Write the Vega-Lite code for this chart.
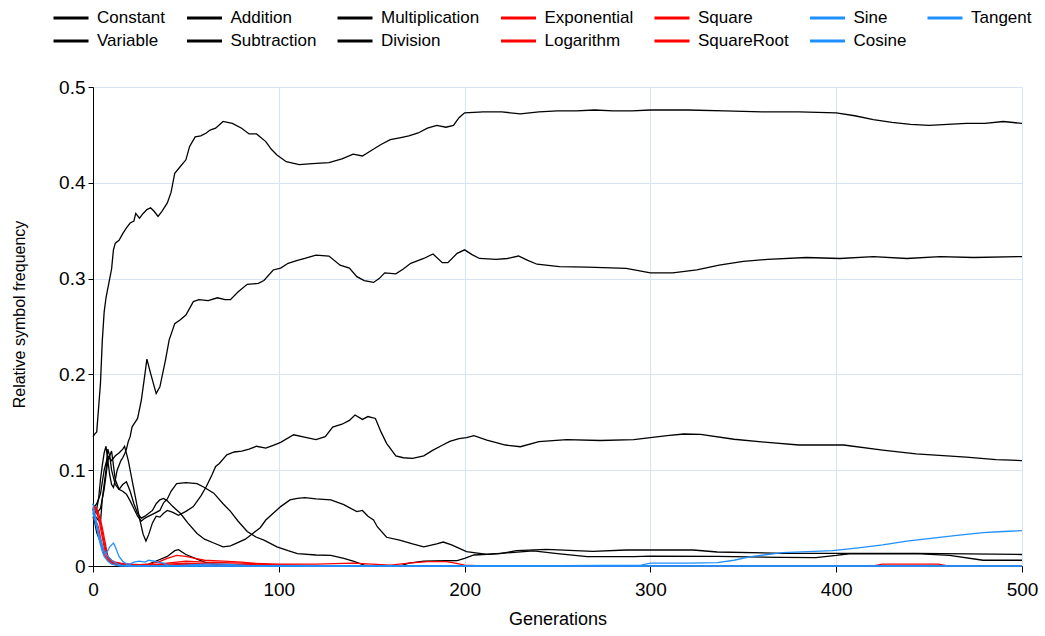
{
 "$schema": "https://vega.github.io/schema/vega-lite/v6.json",
 "width": 929, "height": 479,
 "autosize": {"type": "none"},
 "padding": {"left": 93, "top": 87, "right": 23, "bottom": 70},
 "background": "white",
 "config": {"view": {"stroke": null}, "font": "Liberation Sans"},
 "datasets": {
  "d": [
{"s":"Constant","g":0,"v":0.135},{"s":"Constant","g":1,"v":0.138},{"s":"Constant","g":2,"v":0.14},{"s":"Constant","g":3,"v":0.165},{"s":"Constant","g":4,"v":0.19},{"s":"Constant","g":5,"v":0.235},{"s":"Constant","g":6,"v":0.265},{"s":"Constant","g":7,"v":0.28},{"s":"Constant","g":8,"v":0.29},{"s":"Constant","g":9,"v":0.3},{"s":"Constant","g":10,"v":0.31},{"s":"Constant","g":11,"v":0.33},{"s":"Constant","g":12,"v":0.337},{"s":"Constant","g":14,"v":0.34},{"s":"Constant","g":16,"v":0.347},{"s":"Constant","g":18,"v":0.353},{"s":"Constant","g":20,"v":0.358},{"s":"Constant","g":22,"v":0.36},{"s":"Constant","g":23,"v":0.368},{"s":"Constant","g":25,"v":0.363},{"s":"Constant","g":27,"v":0.368},{"s":"Constant","g":29,"v":0.372},{"s":"Constant","g":31,"v":0.374},{"s":"Constant","g":33,"v":0.37},{"s":"Constant","g":35,"v":0.365},{"s":"Constant","g":37,"v":0.37},{"s":"Constant","g":40,"v":0.379},{"s":"Constant","g":42,"v":0.39},{"s":"Constant","g":44,"v":0.41},{"s":"Constant","g":47,"v":0.417},{"s":"Constant","g":50,"v":0.424},{"s":"Constant","g":52,"v":0.438},{"s":"Constant","g":55,"v":0.448},{"s":"Constant","g":58,"v":0.449},{"s":"Constant","g":61,"v":0.452},{"s":"Constant","g":63,"v":0.455},{"s":"Constant","g":66,"v":0.457},{"s":"Constant","g":70,"v":0.464},{"s":"Constant","g":75,"v":0.462},{"s":"Constant","g":80,"v":0.457},{"s":"Constant","g":84,"v":0.451},{"s":"Constant","g":88,"v":0.451},{"s":"Constant","g":93,"v":0.443},{"s":"Constant","g":96,"v":0.435},{"s":"Constant","g":99,"v":0.429},{"s":"Constant","g":104,"v":0.422},{"s":"Constant","g":111,"v":0.419},{"s":"Constant","g":118,"v":0.42},{"s":"Constant","g":127,"v":0.421},{"s":"Constant","g":134,"v":0.425},{"s":"Constant","g":140,"v":0.43},{"s":"Constant","g":145,"v":0.428},{"s":"Constant","g":150,"v":0.434},{"s":"Constant","g":155,"v":0.44},{"s":"Constant","g":160,"v":0.445},{"s":"Constant","g":165,"v":0.447},{"s":"Constant","g":170,"v":0.449},{"s":"Constant","g":175,"v":0.452},{"s":"Constant","g":180,"v":0.457},{"s":"Constant","g":185,"v":0.46},{"s":"Constant","g":190,"v":0.458},{"s":"Constant","g":194,"v":0.46},{"s":"Constant","g":197,"v":0.468},{"s":"Constant","g":200,"v":0.473},{"s":"Constant","g":210,"v":0.474},{"s":"Constant","g":220,"v":0.474},{"s":"Constant","g":230,"v":0.472},{"s":"Constant","g":240,"v":0.474},{"s":"Constant","g":250,"v":0.475},{"s":"Constant","g":260,"v":0.475},{"s":"Constant","g":270,"v":0.476},{"s":"Constant","g":280,"v":0.475},{"s":"Constant","g":290,"v":0.475},{"s":"Constant","g":300,"v":0.476},{"s":"Constant","g":320,"v":0.476},{"s":"Constant","g":340,"v":0.475},{"s":"Constant","g":360,"v":0.474},{"s":"Constant","g":380,"v":0.474},{"s":"Constant","g":400,"v":0.473},{"s":"Constant","g":410,"v":0.47},{"s":"Constant","g":420,"v":0.466},{"s":"Constant","g":430,"v":0.463},{"s":"Constant","g":440,"v":0.461},{"s":"Constant","g":450,"v":0.46},{"s":"Constant","g":460,"v":0.461},{"s":"Constant","g":470,"v":0.462},{"s":"Constant","g":480,"v":0.462},{"s":"Constant","g":490,"v":0.464},{"s":"Constant","g":500,"v":0.462},
{"s":"Variable","g":0,"v":0.05},{"s":"Variable","g":1,"v":0.055},{"s":"Variable","g":2,"v":0.06},{"s":"Variable","g":3,"v":0.07},{"s":"Variable","g":4,"v":0.09},{"s":"Variable","g":5,"v":0.105},{"s":"Variable","g":6,"v":0.118},{"s":"Variable","g":7,"v":0.125},{"s":"Variable","g":8,"v":0.11},{"s":"Variable","g":9,"v":0.095},{"s":"Variable","g":10,"v":0.085},{"s":"Variable","g":11,"v":0.082},{"s":"Variable","g":12,"v":0.09},{"s":"Variable","g":13,"v":0.1},{"s":"Variable","g":14,"v":0.105},{"s":"Variable","g":15,"v":0.11},{"s":"Variable","g":16,"v":0.113},{"s":"Variable","g":17,"v":0.117},{"s":"Variable","g":18,"v":0.122},{"s":"Variable","g":19,"v":0.13},{"s":"Variable","g":20,"v":0.135},{"s":"Variable","g":21,"v":0.145},{"s":"Variable","g":22,"v":0.148},{"s":"Variable","g":24,"v":0.154},{"s":"Variable","g":26,"v":0.173},{"s":"Variable","g":28,"v":0.201},{"s":"Variable","g":29,"v":0.216},{"s":"Variable","g":31,"v":0.201},{"s":"Variable","g":34,"v":0.18},{"s":"Variable","g":36,"v":0.187},{"s":"Variable","g":39,"v":0.215},{"s":"Variable","g":41,"v":0.236},{"s":"Variable","g":44,"v":0.253},{"s":"Variable","g":47,"v":0.257},{"s":"Variable","g":50,"v":0.262},{"s":"Variable","g":54,"v":0.276},{"s":"Variable","g":57,"v":0.278},{"s":"Variable","g":62,"v":0.277},{"s":"Variable","g":67,"v":0.28},{"s":"Variable","g":71,"v":0.278},{"s":"Variable","g":74,"v":0.278},{"s":"Variable","g":78,"v":0.286},{"s":"Variable","g":83,"v":0.294},{"s":"Variable","g":89,"v":0.295},{"s":"Variable","g":92,"v":0.298},{"s":"Variable","g":97,"v":0.309},{"s":"Variable","g":101,"v":0.311},{"s":"Variable","g":105,"v":0.316},{"s":"Variable","g":110,"v":0.319},{"s":"Variable","g":114,"v":0.321},{"s":"Variable","g":120,"v":0.3246},{"s":"Variable","g":127,"v":0.3235},{"s":"Variable","g":133,"v":0.314},{"s":"Variable","g":138,"v":0.311},{"s":"Variable","g":142,"v":0.302},{"s":"Variable","g":146,"v":0.298},{"s":"Variable","g":151,"v":0.296},{"s":"Variable","g":154,"v":0.3},{"s":"Variable","g":157,"v":0.306},{"s":"Variable","g":163,"v":0.305},{"s":"Variable","g":167,"v":0.31},{"s":"Variable","g":171,"v":0.316},{"s":"Variable","g":178,"v":0.321},{"s":"Variable","g":183,"v":0.3257},{"s":"Variable","g":188,"v":0.3166},{"s":"Variable","g":191,"v":0.3166},{"s":"Variable","g":196,"v":0.3264},{"s":"Variable","g":200,"v":0.33},{"s":"Variable","g":204,"v":0.325},{"s":"Variable","g":208,"v":0.321},{"s":"Variable","g":217,"v":0.32},{"s":"Variable","g":223,"v":0.321},{"s":"Variable","g":229,"v":0.3236},{"s":"Variable","g":234,"v":0.319},{"s":"Variable","g":239,"v":0.315},{"s":"Variable","g":251,"v":0.3125},{"s":"Variable","g":266,"v":0.312},{"s":"Variable","g":287,"v":0.3107},{"s":"Variable","g":300,"v":0.306},{"s":"Variable","g":312,"v":0.306},{"s":"Variable","g":325,"v":0.309},{"s":"Variable","g":337,"v":0.314},{"s":"Variable","g":350,"v":0.318},{"s":"Variable","g":363,"v":0.32},{"s":"Variable","g":384,"v":0.322},{"s":"Variable","g":402,"v":0.321},{"s":"Variable","g":420,"v":0.323},{"s":"Variable","g":438,"v":0.321},{"s":"Variable","g":456,"v":0.323},{"s":"Variable","g":474,"v":0.322},{"s":"Variable","g":500,"v":0.323},
{"s":"Addition","g":0,"v":0.06},{"s":"Addition","g":2,"v":0.065},{"s":"Addition","g":4,"v":0.075},{"s":"Addition","g":6,"v":0.1},{"s":"Addition","g":8,"v":0.115},{"s":"Addition","g":10,"v":0.11},{"s":"Addition","g":12,"v":0.115},{"s":"Addition","g":14,"v":0.118},{"s":"Addition","g":16,"v":0.122},{"s":"Addition","g":17,"v":0.125},{"s":"Addition","g":19,"v":0.11},{"s":"Addition","g":21,"v":0.09},{"s":"Addition","g":23,"v":0.07},{"s":"Addition","g":25,"v":0.05},{"s":"Addition","g":27,"v":0.033},{"s":"Addition","g":28.5,"v":0.026},{"s":"Addition","g":30,"v":0.033},{"s":"Addition","g":32,"v":0.045},{"s":"Addition","g":34,"v":0.052},{"s":"Addition","g":36,"v":0.051},{"s":"Addition","g":38,"v":0.055},{"s":"Addition","g":40,"v":0.058},{"s":"Addition","g":43,"v":0.056},{"s":"Addition","g":46,"v":0.053},{"s":"Addition","g":50,"v":0.057},{"s":"Addition","g":54,"v":0.062},{"s":"Addition","g":58,"v":0.073},{"s":"Addition","g":61,"v":0.083},{"s":"Addition","g":64,"v":0.095},{"s":"Addition","g":66,"v":0.104},{"s":"Addition","g":68,"v":0.107},{"s":"Addition","g":72,"v":0.116},{"s":"Addition","g":76,"v":0.119},{"s":"Addition","g":80,"v":0.12},{"s":"Addition","g":84,"v":0.122},{"s":"Addition","g":88,"v":0.125},{"s":"Addition","g":93,"v":0.123},{"s":"Addition","g":97,"v":0.126},{"s":"Addition","g":101,"v":0.129},{"s":"Addition","g":108,"v":0.137},{"s":"Addition","g":115,"v":0.134},{"s":"Addition","g":120,"v":0.132},{"s":"Addition","g":125,"v":0.135},{"s":"Addition","g":129,"v":0.145},{"s":"Addition","g":134,"v":0.148},{"s":"Addition","g":138,"v":0.152},{"s":"Addition","g":141,"v":0.1576},{"s":"Addition","g":145,"v":0.153},{"s":"Addition","g":148,"v":0.156},{"s":"Addition","g":152,"v":0.154},{"s":"Addition","g":155,"v":0.14},{"s":"Addition","g":158,"v":0.128},{"s":"Addition","g":163,"v":0.115},{"s":"Addition","g":167,"v":0.113},{"s":"Addition","g":172,"v":0.1124},{"s":"Addition","g":178,"v":0.115},{"s":"Addition","g":183,"v":0.121},{"s":"Addition","g":188,"v":0.126},{"s":"Addition","g":192,"v":0.13},{"s":"Addition","g":197,"v":0.133},{"s":"Addition","g":201,"v":0.134},{"s":"Addition","g":205,"v":0.136},{"s":"Addition","g":212,"v":0.1315},{"s":"Addition","g":222,"v":0.1263},{"s":"Addition","g":230,"v":0.1245},{"s":"Addition","g":240,"v":0.1298},{"s":"Addition","g":255,"v":0.132},{"s":"Addition","g":273,"v":0.131},{"s":"Addition","g":291,"v":0.132},{"s":"Addition","g":300,"v":0.134},{"s":"Addition","g":309,"v":0.136},{"s":"Addition","g":318,"v":0.1378},{"s":"Addition","g":327,"v":0.1375},{"s":"Addition","g":345,"v":0.1323},{"s":"Addition","g":363,"v":0.129},{"s":"Addition","g":380,"v":0.1263},{"s":"Addition","g":404,"v":0.1263},{"s":"Addition","g":425,"v":0.121},{"s":"Addition","g":443,"v":0.117},{"s":"Addition","g":470,"v":0.1137},{"s":"Addition","g":486,"v":0.111},{"s":"Addition","g":500,"v":0.11},
{"s":"Subtraction","g":0,"v":0.065},{"s":"Subtraction","g":2,"v":0.055},{"s":"Subtraction","g":4,"v":0.06},{"s":"Subtraction","g":6,"v":0.08},{"s":"Subtraction","g":8,"v":0.11},{"s":"Subtraction","g":10,"v":0.12},{"s":"Subtraction","g":12,"v":0.09},{"s":"Subtraction","g":14,"v":0.08},{"s":"Subtraction","g":16,"v":0.078},{"s":"Subtraction","g":18,"v":0.075},{"s":"Subtraction","g":20,"v":0.068},{"s":"Subtraction","g":22,"v":0.06},{"s":"Subtraction","g":24,"v":0.052},{"s":"Subtraction","g":26,"v":0.047},{"s":"Subtraction","g":28,"v":0.05},{"s":"Subtraction","g":30,"v":0.052},{"s":"Subtraction","g":33,"v":0.055},{"s":"Subtraction","g":36,"v":0.058},{"s":"Subtraction","g":38,"v":0.066},{"s":"Subtraction","g":40,"v":0.07},{"s":"Subtraction","g":42,"v":0.078},{"s":"Subtraction","g":45,"v":0.086},{"s":"Subtraction","g":50,"v":0.087},{"s":"Subtraction","g":56,"v":0.086},{"s":"Subtraction","g":60,"v":0.082},{"s":"Subtraction","g":65,"v":0.076},{"s":"Subtraction","g":70,"v":0.065},{"s":"Subtraction","g":74,"v":0.057},{"s":"Subtraction","g":78,"v":0.047},{"s":"Subtraction","g":83,"v":0.036},{"s":"Subtraction","g":88,"v":0.03},{"s":"Subtraction","g":92,"v":0.027},{"s":"Subtraction","g":99,"v":0.02},{"s":"Subtraction","g":105,"v":0.016},{"s":"Subtraction","g":110,"v":0.013},{"s":"Subtraction","g":120,"v":0.0115},{"s":"Subtraction","g":128,"v":0.011},{"s":"Subtraction","g":135,"v":0.008},{"s":"Subtraction","g":140,"v":0.005},{"s":"Subtraction","g":146,"v":0.001},{"s":"Subtraction","g":150,"v":0},{"s":"Subtraction","g":250,"v":0},{"s":"Subtraction","g":500,"v":0},
{"s":"Multiplication","g":0,"v":0.055},{"s":"Multiplication","g":2,"v":0.05},{"s":"Multiplication","g":4,"v":0.045},{"s":"Multiplication","g":5,"v":0.07},{"s":"Multiplication","g":7,"v":0.1},{"s":"Multiplication","g":8,"v":0.122},{"s":"Multiplication","g":9,"v":0.115},{"s":"Multiplication","g":10,"v":0.1},{"s":"Multiplication","g":12,"v":0.085},{"s":"Multiplication","g":14,"v":0.08},{"s":"Multiplication","g":16,"v":0.085},{"s":"Multiplication","g":18,"v":0.088},{"s":"Multiplication","g":20,"v":0.078},{"s":"Multiplication","g":22,"v":0.065},{"s":"Multiplication","g":24,"v":0.055},{"s":"Multiplication","g":26,"v":0.05},{"s":"Multiplication","g":28,"v":0.052},{"s":"Multiplication","g":30,"v":0.055},{"s":"Multiplication","g":32,"v":0.058},{"s":"Multiplication","g":34,"v":0.065},{"s":"Multiplication","g":36,"v":0.069},{"s":"Multiplication","g":38,"v":0.0706},{"s":"Multiplication","g":40,"v":0.068},{"s":"Multiplication","g":43,"v":0.062},{"s":"Multiplication","g":47,"v":0.055},{"s":"Multiplication","g":51,"v":0.045},{"s":"Multiplication","g":56,"v":0.034},{"s":"Multiplication","g":60,"v":0.028},{"s":"Multiplication","g":65,"v":0.024},{"s":"Multiplication","g":70,"v":0.02},{"s":"Multiplication","g":74,"v":0.021},{"s":"Multiplication","g":77,"v":0.0237},{"s":"Multiplication","g":82,"v":0.028},{"s":"Multiplication","g":86,"v":0.034},{"s":"Multiplication","g":90,"v":0.04},{"s":"Multiplication","g":93,"v":0.048},{"s":"Multiplication","g":97,"v":0.055},{"s":"Multiplication","g":101,"v":0.062},{"s":"Multiplication","g":106,"v":0.069},{"s":"Multiplication","g":110,"v":0.0706},{"s":"Multiplication","g":114,"v":0.0713},{"s":"Multiplication","g":120,"v":0.07},{"s":"Multiplication","g":128,"v":0.069},{"s":"Multiplication","g":135,"v":0.064},{"s":"Multiplication","g":142,"v":0.0567},{"s":"Multiplication","g":145,"v":0.058},{"s":"Multiplication","g":148,"v":0.052},{"s":"Multiplication","g":151,"v":0.048},{"s":"Multiplication","g":153,"v":0.041},{"s":"Multiplication","g":158,"v":0.03},{"s":"Multiplication","g":165,"v":0.027},{"s":"Multiplication","g":172,"v":0.023},{"s":"Multiplication","g":178,"v":0.02},{"s":"Multiplication","g":185,"v":0.023},{"s":"Multiplication","g":188.5,"v":0.025},{"s":"Multiplication","g":193,"v":0.022},{"s":"Multiplication","g":201,"v":0.015},{"s":"Multiplication","g":212,"v":0.0122},{"s":"Multiplication","g":225,"v":0.014},{"s":"Multiplication","g":237,"v":0.0157},{"s":"Multiplication","g":250,"v":0.013},{"s":"Multiplication","g":266,"v":0.0097},{"s":"Multiplication","g":291,"v":0.0097},{"s":"Multiplication","g":300,"v":0.0104},{"s":"Multiplication","g":336,"v":0.01},{"s":"Multiplication","g":371,"v":0.009},{"s":"Multiplication","g":389,"v":0.0087},{"s":"Multiplication","g":400,"v":0.011},{"s":"Multiplication","g":407,"v":0.0128},{"s":"Multiplication","g":443,"v":0.013},{"s":"Multiplication","g":461,"v":0.011},{"s":"Multiplication","g":479,"v":0.006},{"s":"Multiplication","g":500,"v":0.006},
{"s":"Division","g":0,"v":0.06},{"s":"Division","g":1,"v":0.045},{"s":"Division","g":2,"v":0.035},{"s":"Division","g":3,"v":0.03},{"s":"Division","g":4,"v":0.025},{"s":"Division","g":6,"v":0.015},{"s":"Division","g":8,"v":0.01},{"s":"Division","g":10,"v":0.005},{"s":"Division","g":12,"v":0.003},{"s":"Division","g":15,"v":0.002},{"s":"Division","g":20,"v":0.001},{"s":"Division","g":25,"v":0.001},{"s":"Division","g":30,"v":0.002},{"s":"Division","g":35,"v":0.006},{"s":"Division","g":40,"v":0.01},{"s":"Division","g":44,"v":0.016},{"s":"Division","g":46,"v":0.017},{"s":"Division","g":50,"v":0.012},{"s":"Division","g":55,"v":0.008},{"s":"Division","g":60,"v":0.004},{"s":"Division","g":65,"v":0.002},{"s":"Division","g":70,"v":0.001},{"s":"Division","g":80,"v":0},{"s":"Division","g":165,"v":0},{"s":"Division","g":170,"v":0.003},{"s":"Division","g":178,"v":0.005},{"s":"Division","g":190,"v":0.0055},{"s":"Division","g":196,"v":0.0056},{"s":"Division","g":200,"v":0.008},{"s":"Division","g":205,"v":0.0115},{"s":"Division","g":219,"v":0.013},{"s":"Division","g":228,"v":0.016},{"s":"Division","g":244,"v":0.0174},{"s":"Division","g":269,"v":0.0153},{"s":"Division","g":287,"v":0.0167},{"s":"Division","g":300,"v":0.0167},{"s":"Division","g":323,"v":0.0167},{"s":"Division","g":336,"v":0.0146},{"s":"Division","g":372,"v":0.0132},{"s":"Division","g":407,"v":0.0132},{"s":"Division","g":443,"v":0.0132},{"s":"Division","g":500,"v":0.012},
{"s":"Exponential","g":0,"v":0.06},{"s":"Exponential","g":1,"v":0.062},{"s":"Exponential","g":2,"v":0.058},{"s":"Exponential","g":3,"v":0.05},{"s":"Exponential","g":4,"v":0.04},{"s":"Exponential","g":5,"v":0.03},{"s":"Exponential","g":6,"v":0.02},{"s":"Exponential","g":7,"v":0.012},{"s":"Exponential","g":8,"v":0.008},{"s":"Exponential","g":10,"v":0.004},{"s":"Exponential","g":12,"v":0.002},{"s":"Exponential","g":15,"v":0.001},{"s":"Exponential","g":20,"v":0.001},{"s":"Exponential","g":30,"v":0.002},{"s":"Exponential","g":35,"v":0.004},{"s":"Exponential","g":40,"v":0.008},{"s":"Exponential","g":45,"v":0.011},{"s":"Exponential","g":50,"v":0.01},{"s":"Exponential","g":55,"v":0.008},{"s":"Exponential","g":60,"v":0.006},{"s":"Exponential","g":70,"v":0.005},{"s":"Exponential","g":80,"v":0.004},{"s":"Exponential","g":90,"v":0.002},{"s":"Exponential","g":100,"v":0.001},{"s":"Exponential","g":120,"v":0},{"s":"Exponential","g":500,"v":0},
{"s":"Logarithm","g":0,"v":0.055},{"s":"Logarithm","g":1,"v":0.058},{"s":"Logarithm","g":2,"v":0.06},{"s":"Logarithm","g":3,"v":0.055},{"s":"Logarithm","g":4,"v":0.048},{"s":"Logarithm","g":5,"v":0.04},{"s":"Logarithm","g":6,"v":0.03},{"s":"Logarithm","g":7,"v":0.02},{"s":"Logarithm","g":8,"v":0.01},{"s":"Logarithm","g":10,"v":0.005},{"s":"Logarithm","g":12,"v":0.003},{"s":"Logarithm","g":15,"v":0.002},{"s":"Logarithm","g":20,"v":0.001},{"s":"Logarithm","g":30,"v":0.001},{"s":"Logarithm","g":40,"v":0.003},{"s":"Logarithm","g":50,"v":0.005},{"s":"Logarithm","g":60,"v":0.004},{"s":"Logarithm","g":80,"v":0.003},{"s":"Logarithm","g":100,"v":0.002},{"s":"Logarithm","g":120,"v":0.002},{"s":"Logarithm","g":140,"v":0.003},{"s":"Logarithm","g":150,"v":0.002},{"s":"Logarithm","g":160,"v":0.001},{"s":"Logarithm","g":170,"v":0.003},{"s":"Logarithm","g":180,"v":0.0045},{"s":"Logarithm","g":190,"v":0.0045},{"s":"Logarithm","g":195,"v":0.003},{"s":"Logarithm","g":200,"v":0.001},{"s":"Logarithm","g":210,"v":0},{"s":"Logarithm","g":500,"v":0},
{"s":"Square","g":0,"v":0.05},{"s":"Square","g":2,"v":0.045},{"s":"Square","g":3,"v":0.04},{"s":"Square","g":4,"v":0.03},{"s":"Square","g":5,"v":0.02},{"s":"Square","g":6,"v":0.012},{"s":"Square","g":8,"v":0.006},{"s":"Square","g":10,"v":0.003},{"s":"Square","g":15,"v":0.001},{"s":"Square","g":20,"v":0},{"s":"Square","g":40,"v":0.001},{"s":"Square","g":50,"v":0.002},{"s":"Square","g":60,"v":0.001},{"s":"Square","g":80,"v":0},{"s":"Square","g":420,"v":0},{"s":"Square","g":425,"v":0.002},{"s":"Square","g":455,"v":0.002},{"s":"Square","g":460,"v":0},{"s":"Square","g":500,"v":0},
{"s":"SquareRoot","g":0,"v":0.062},{"s":"SquareRoot","g":1,"v":0.06},{"s":"SquareRoot","g":2,"v":0.055},{"s":"SquareRoot","g":3,"v":0.05},{"s":"SquareRoot","g":4,"v":0.045},{"s":"SquareRoot","g":5,"v":0.035},{"s":"SquareRoot","g":6,"v":0.025},{"s":"SquareRoot","g":7,"v":0.015},{"s":"SquareRoot","g":8,"v":0.01},{"s":"SquareRoot","g":10,"v":0.006},{"s":"SquareRoot","g":12,"v":0.004},{"s":"SquareRoot","g":15,"v":0.003},{"s":"SquareRoot","g":20,"v":0.002},{"s":"SquareRoot","g":30,"v":0.001},{"s":"SquareRoot","g":40,"v":0.002},{"s":"SquareRoot","g":50,"v":0.003},{"s":"SquareRoot","g":70,"v":0.002},{"s":"SquareRoot","g":100,"v":0.001},{"s":"SquareRoot","g":130,"v":0},{"s":"SquareRoot","g":500,"v":0},
{"s":"Sine","g":0,"v":0.065},{"s":"Sine","g":1,"v":0.055},{"s":"Sine","g":2,"v":0.045},{"s":"Sine","g":3,"v":0.035},{"s":"Sine","g":4,"v":0.028},{"s":"Sine","g":5,"v":0.022},{"s":"Sine","g":6,"v":0.015},{"s":"Sine","g":8,"v":0.01},{"s":"Sine","g":10,"v":0.006},{"s":"Sine","g":12,"v":0.003},{"s":"Sine","g":15,"v":0.001},{"s":"Sine","g":20,"v":0},{"s":"Sine","g":230,"v":0},{"s":"Sine","g":295,"v":0.001},{"s":"Sine","g":300,"v":0.003},{"s":"Sine","g":320,"v":0.003},{"s":"Sine","g":336,"v":0.0035},{"s":"Sine","g":345,"v":0.006},{"s":"Sine","g":354,"v":0.0097},{"s":"Sine","g":371,"v":0.014},{"s":"Sine","g":398,"v":0.016},{"s":"Sine","g":412,"v":0.019},{"s":"Sine","g":425,"v":0.022},{"s":"Sine","g":438,"v":0.026},{"s":"Sine","g":452,"v":0.029},{"s":"Sine","g":465,"v":0.032},{"s":"Sine","g":479,"v":0.0348},{"s":"Sine","g":490,"v":0.036},{"s":"Sine","g":500,"v":0.0369},
{"s":"Cosine","g":0,"v":0.06},{"s":"Cosine","g":1,"v":0.05},{"s":"Cosine","g":2,"v":0.04},{"s":"Cosine","g":3,"v":0.032},{"s":"Cosine","g":4,"v":0.025},{"s":"Cosine","g":5,"v":0.02},{"s":"Cosine","g":6,"v":0.015},{"s":"Cosine","g":7,"v":0.013},{"s":"Cosine","g":8,"v":0.016},{"s":"Cosine","g":9,"v":0.02},{"s":"Cosine","g":11,"v":0.024},{"s":"Cosine","g":12,"v":0.02},{"s":"Cosine","g":13,"v":0.015},{"s":"Cosine","g":14,"v":0.01},{"s":"Cosine","g":16,"v":0.005},{"s":"Cosine","g":18,"v":0.002},{"s":"Cosine","g":20,"v":0.002},{"s":"Cosine","g":22,"v":0.004},{"s":"Cosine","g":25,"v":0.005},{"s":"Cosine","g":28,"v":0.004},{"s":"Cosine","g":30,"v":0.006},{"s":"Cosine","g":33,"v":0.005},{"s":"Cosine","g":35,"v":0.004},{"s":"Cosine","g":38,"v":0.003},{"s":"Cosine","g":40,"v":0.001},{"s":"Cosine","g":45,"v":0},{"s":"Cosine","g":500,"v":0},
{"s":"Tangent","g":0,"v":0.055},{"s":"Tangent","g":1,"v":0.048},{"s":"Tangent","g":2,"v":0.04},{"s":"Tangent","g":3,"v":0.03},{"s":"Tangent","g":4,"v":0.022},{"s":"Tangent","g":5,"v":0.015},{"s":"Tangent","g":6,"v":0.01},{"s":"Tangent","g":8,"v":0.005},{"s":"Tangent","g":10,"v":0.002},{"s":"Tangent","g":12,"v":0.001},{"s":"Tangent","g":15,"v":0},{"s":"Tangent","g":40,"v":0},{"s":"Tangent","g":50,"v":0.001},{"s":"Tangent","g":60,"v":0.002},{"s":"Tangent","g":70,"v":0.002},{"s":"Tangent","g":80,"v":0.001},{"s":"Tangent","g":90,"v":0},{"s":"Tangent","g":500,"v":0}
  ]
 },
 "data": {"name": "d"},
 "mark": {"type": "line", "strokeWidth": 1.3},
 "encoding": {
  "x": {"field": "g", "type": "quantitative",
        "scale": {"domain": [0, 500], "nice": false, "zero": false},
        "axis": {"title": "Generations", "values": [0,100,200,300,400,500], "grid": true, "gridColor": "#d9e4f2", "labelFlush": false,
                 "domainColor": "black", "tickColor": "black", "tickSize": 6, "labelFontSize": 19, "titleFontSize": 18,
                 "labelColor": "black", "titleColor": "black", "titleFontWeight": "normal", "labelPadding": 8, "titlePadding": 11,
                 "labelFont": "Liberation Sans", "titleFont": "Liberation Sans"}},
  "y": {"field": "v", "type": "quantitative",
        "scale": {"domain": [0, 0.5], "nice": false},
        "axis": {"title": "Relative symbol frequency", "values": [0,0.1,0.2,0.3,0.4,0.5], "format": "~g", "grid": true, "gridColor": "#d9e4f2", "labelFlush": false,
                 "domainColor": "black", "tickColor": "black", "tickSize": 5, "labelFontSize": 19, "titleFontSize": 16,
                 "labelColor": "black", "titleColor": "black", "titleFontWeight": "normal", "labelPadding": 3, "titlePadding": 31, "titleY": 227,
                 "labelFont": "Liberation Sans", "titleFont": "Liberation Sans"}},
  "color": {"field": "s", "type": "nominal",
        "scale": {"domain": ["Constant","Addition","Multiplication","Exponential","Square","Sine","Tangent","Variable","Subtraction","Division","Logarithm","SquareRoot","Cosine"],
                  "range": ["#000000","#000000","#000000","#ff0000","#ff0000","#1e90ff","#1e90ff","#000000","#000000","#000000","#ff0000","#ff0000","#1e90ff"]},
        "legend": {"orient": "none", "legendX": -41, "legendY": -77, "direction": "horizontal", "columns": 7, "title": null,
                   "symbolType": "stroke", "symbolSize": 1225, "symbolStrokeWidth": 3, "labelFontSize": 17, "labelColor": "black",
                   "labelFont": "Liberation Sans", "labelOffset": 7, "columnPadding": 19.5, "rowPadding": 6, "clipHeight": 16, "padding": 0}},
  "order": {"value": 0}
 }
}
